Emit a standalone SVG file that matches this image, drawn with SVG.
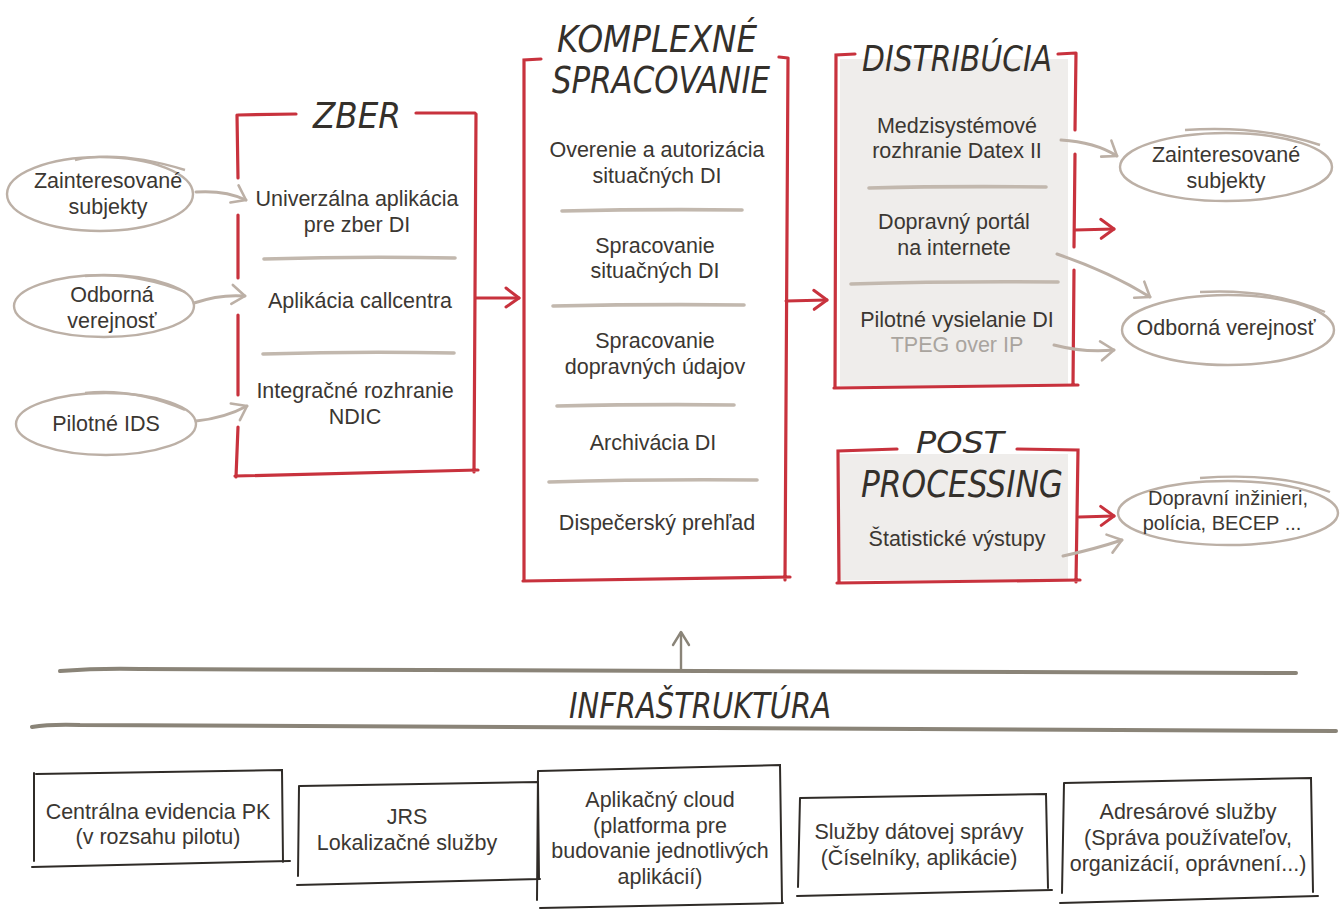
<svg xmlns="http://www.w3.org/2000/svg" width="1344" height="909" viewBox="0 0 1344 909">
<defs>
<marker id="mr" viewBox="0 0 12 12" refX="11" refY="6" markerWidth="12" markerHeight="12" markerUnits="userSpaceOnUse" orient="auto" overflow="visible">
<path d="M-2,-4 L11,6 L-2,15" fill="none" stroke="#c8323d" stroke-width="3" stroke-linecap="round" stroke-linejoin="round"/>
</marker>
<marker id="mt" viewBox="0 0 12 12" refX="11" refY="6" markerWidth="12" markerHeight="12" markerUnits="userSpaceOnUse" orient="auto" overflow="visible">
<path d="M-2,-4 L11,6 L-2,15" fill="none" stroke="#bcb0a6" stroke-width="2.6" stroke-linecap="round" stroke-linejoin="round"/>
</marker>
<marker id="md" viewBox="0 0 12 12" refX="11" refY="6" markerWidth="12" markerHeight="12" markerUnits="userSpaceOnUse" orient="auto" overflow="visible">
<path d="M-2,-2 L11,6 L-2,14" fill="none" stroke="#8a8478" stroke-width="2.4" stroke-linecap="round" stroke-linejoin="round"/>
</marker>
</defs>
<style>
.t{font-family:"Liberation Sans",Arial,sans-serif;font-size:21.5px;fill:#3b3732;text-anchor:middle}
.s{font-size:20px}
.g{fill:#a9a49e}
.h{font-family:"DejaVu Sans Condensed","DejaVu Sans",sans-serif;font-style:italic;font-weight:300;fill:#34302b;text-anchor:middle}
.red{fill:none;stroke:#c8323d;stroke-width:3.2;stroke-linecap:round}
.div{fill:none;stroke:#c2b8ae;stroke-width:3.6;stroke-linecap:round}
.ell{fill:none;stroke:#bcb0a6;stroke-width:2.4}
.ta{fill:none;stroke:#bcb0a6;stroke-width:3;stroke-linecap:round;marker-end:url(#mt)}
.ra{fill:none;stroke:#c8323d;stroke-width:3;stroke-linecap:round;marker-end:url(#mr)}
.box{fill:none;stroke:#2f2b27;stroke-width:2;stroke-linecap:round}
.inf{fill:none;stroke:#8a8478;stroke-width:4;stroke-linecap:round}
.fill{fill:#efedeb}
</style>
<rect width="1344" height="909" fill="#ffffff"/>

<g id="zs-left">
<ellipse class="ell" cx="100" cy="194" rx="93" ry="37"/>
<path class="ell" d="M75 160 Q120 150 185 170"/>
<text class="t" x="108" y="188">Zainteresované</text>
<text class="t" x="108" y="214">subjekty</text>
</g>
<g id="ov-left">
<ellipse class="ell" cx="104" cy="306" rx="90" ry="31"/>
<path class="ell" d="M85 276 Q135 272 185 292"/>
<text class="t" x="112" y="302">Odborná</text>
<text class="t" x="112" y="328">verejnosť</text>
</g>
<g id="ids">
<ellipse class="ell" cx="106" cy="424" rx="90" ry="31"/>
<path class="ell" d="M85 393 Q135 388 185 410"/>
<text class="t" x="106" y="431">Pilotné IDS</text>
</g>

<g id="zber">
<path class="red" d="M296 114 L238 115 M237 115 L238 178 M238 215 L238 278 M238 315 L238 395 M238 427 L236 477 M235 476 L478 470 M476 114 L474 472 M416 113 L475 113"/>
<text class="h" x="357" y="128" font-size="36" textLength="88" lengthAdjust="spacingAndGlyphs">ZBER</text>
<text class="t" x="357" y="206">Univerzálna aplikácia</text>
<text class="t" x="357" y="232">pre zber DI</text>
<path class="div" d="M264 259 Q360 256 455 258"/>
<text class="t" x="360" y="308">Aplikácia callcentra</text>
<path class="div" d="M263 354 Q360 351 454 353"/>
<text class="t" x="355" y="398">Integračné rozhranie</text>
<text class="t" x="355" y="424">NDIC</text>
</g>

<g id="komplexne">
<path class="red" d="M541 59 L524 60 L524 580 M523 581 L790 577 M788 58 L785 580 M779 57 L788 58"/>
<text class="h" x="657" y="52" font-size="38" textLength="200" lengthAdjust="spacingAndGlyphs">KOMPLEXNÉ</text>
<text class="h" x="661" y="93" font-size="38" textLength="218" lengthAdjust="spacingAndGlyphs">SPRACOVANIE</text>
<text class="t" x="657" y="157">Overenie a autorizácia</text>
<text class="t" x="657" y="183">situačných DI</text>
<path class="div" d="M562 211 Q650 209 742 210"/>
<text class="t" x="655" y="253">Spracovanie</text>
<text class="t" x="655" y="278">situačných DI</text>
<path class="div" d="M553 306 Q650 304 744 305"/>
<text class="t" x="655" y="348">Spracovanie</text>
<text class="t" x="655" y="374">dopravných údajov</text>
<path class="div" d="M557 406 Q650 404 734 405"/>
<text class="t" x="653" y="450">Archivácia DI</text>
<path class="div" d="M549 482 Q650 479 757 480"/>
<text class="t" x="657" y="530">Dispečerský prehľad</text>
</g>

<g id="distribucia">
<rect class="fill" x="840" y="59" width="228" height="327"/>
<path class="red" d="M855 54 L836 55 L835 388 M834 388 L1078 385 M1058 54 L1076 53 M1076 53 L1075 130 M1075 154 L1074 247 M1074 270 L1073 385"/>
<text class="h" x="957" y="71" font-size="36" textLength="190" lengthAdjust="spacingAndGlyphs">DISTRIBÚCIA</text>
<text class="t" x="957" y="133">Medzisystémové</text>
<text class="t" x="957" y="158">rozhranie Datex II</text>
<path class="div" d="M869 188 Q950 186 1046 187"/>
<text class="t" x="954" y="229">Dopravný portál</text>
<text class="t" x="954" y="255">na internete</text>
<path class="div" d="M851 284 Q950 281 1058 282"/>
<text class="t" x="957" y="327">Pilotné vysielanie DI</text>
<text class="t g" x="957" y="352">TPEG over IP</text>
</g>

<g id="post">
<rect class="fill" x="840" y="454" width="228" height="126"/>
<path class="red" d="M897 449 L838 451 L839 583 M837 583 L1080 580 M1017 449 L1078 450 L1076 582"/>
<text class="h" x="960" y="453" font-size="30" textLength="88" lengthAdjust="spacingAndGlyphs">POST</text>
<text class="h" x="962" y="497" font-size="37" textLength="202" lengthAdjust="spacingAndGlyphs">PROCESSING</text>
<text class="t" x="957" y="546">Štatistické  výstupy</text>
</g>

<g id="zs-right">
<ellipse class="ell" cx="1226" cy="167" rx="106" ry="34"/>
<path class="ell" d="M1185 130 Q1260 125 1320 145"/>
<text class="t" x="1226" y="162">Zainteresované</text>
<text class="t" x="1226" y="188">subjekty</text>
</g>
<g id="ov-right">
<ellipse class="ell" cx="1228" cy="330" rx="106" ry="35"/>
<path class="ell" d="M1200 292 Q1270 288 1325 312"/>
<text class="t" x="1226" y="335">Odborná verejnosť</text>
</g>
<g id="dopravni">
<ellipse class="ell" cx="1228" cy="513" rx="110" ry="32"/>
<path class="ell" d="M1200 478 Q1280 472 1330 492"/>
<text class="t s" x="1228" y="505">Dopravní inžinieri,</text>
<text class="t s" x="1222" y="530">polícia, BECEP ...</text>
</g>

<g id="infra">
<path class="inf" d="M60 671 Q100 668 140 669 L1296 673"/>
<text class="h" x="700" y="718" font-size="36" textLength="262" lengthAdjust="spacingAndGlyphs">INFRAŠTRUKTÚRA</text>
<path class="inf" d="M32 727 Q50 724 80 725 L1336 731"/>
</g>

<g id="centralna">
<path class="box" d="M36 774 L282 770 L283 862 M34 773 L34 861 M32 867 L290 861"/>
<text class="t" x="158" y="819">Centrálna evidencia PK</text>
<text class="t" x="158" y="844">(v rozsahu pilotu)</text>
</g>
<g id="jrs">
<path class="box" d="M300 786 L538 782 L539 879 M299 786 L298 876 M297 885 L540 879"/>
<text class="t" x="407" y="824">JRS</text>
<text class="t" x="407" y="850">Lokalizačné služby</text>
</g>
<g id="cloud">
<path class="box" d="M539 771 L780 765 L782 902 M538 771 L537 900 M540 908 L783 903"/>
<text class="t" x="660" y="807">Aplikačný cloud</text>
<text class="t" x="660" y="833">(platforma pre</text>
<text class="t" x="660" y="858">budovanie jednotlivých</text>
<text class="t" x="660" y="884">aplikácií)</text>
</g>
<g id="dsprava">
<path class="box" d="M800 798 L1046 794 L1048 888 M800 798 L798 887 M797 896 L1052 890"/>
<text class="t" x="919" y="839">Služby dátovej správy</text>
<text class="t" x="919" y="865">(Číselníky, aplikácie)</text>
</g>
<g id="adresar">
<path class="box" d="M1064 783 L1311 778 L1313 892 M1064 783 L1062 893 M1060 903 L1318 896"/>
<text class="t" x="1188" y="819">Adresárové služby</text>
<text class="t" x="1188" y="845">(Správa používateľov,</text>
<text class="t" x="1188" y="871">organizácií, oprávnení...)</text>
</g>

<g id="connectors">
<path class="ta" d="M196 192 Q225 190 246 200"/>
<path class="ta" d="M194 303 Q220 294 245 296"/>
<path class="ta" d="M196 421 Q225 418 247 406"/>
<path class="ra" d="M476 298 L519 298"/>
<path class="ra" d="M786 301 L827 300"/>
<path class="ta" d="M1061 140 Q1095 142 1117 156"/>
<path class="ra" d="M1075 230 L1114 229"/>
<path class="ta" d="M1057 254 Q1110 272 1150 297"/>
<path class="ta" d="M1054 345 Q1085 353 1114 350"/>
<path class="ra" d="M1079 517 L1114 516"/>
<path class="ta" d="M1063 556 Q1095 549 1122 540"/>
<path fill="none" stroke="#8a8478" stroke-width="2.4" marker-end="url(#md)" d="M681 670 L681 632"/>
</g>
</svg>
